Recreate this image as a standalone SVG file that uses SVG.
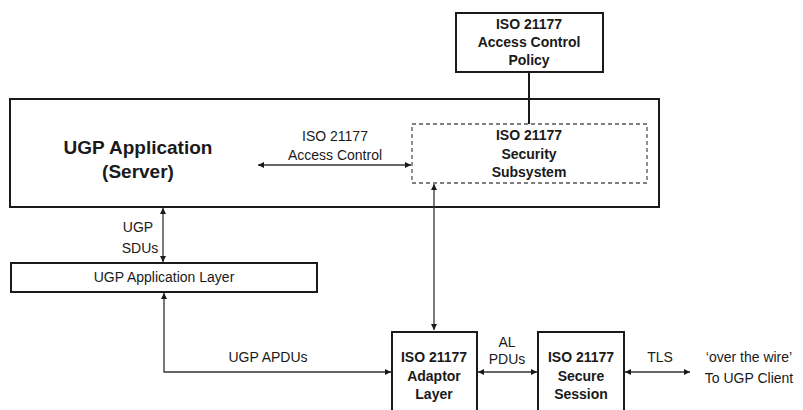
<svg xmlns="http://www.w3.org/2000/svg" width="803" height="410" viewBox="0 0 803 410">
<style>
text{font-family:"Liberation Sans",Arial,sans-serif;font-size:14px;fill:#1a1a1a;text-anchor:middle}
.b{font-weight:bold}
.big{font-weight:bold;font-size:19px}
.box{fill:#fff;stroke:#1a1a1a;stroke-width:2}
.dash{fill:none;stroke:#555;stroke-width:1.3;stroke-dasharray:4,3}
.c{fill:none;stroke:#333;stroke-width:1.3}
.ln{fill:none;stroke:#1a1a1a;stroke-width:2}
</style>
<defs>
<marker id="ah" viewBox="0 0 10 10" refX="10" refY="5" markerWidth="6" markerHeight="6" markerUnits="userSpaceOnUse" orient="auto-start-reverse">
<path d="M0,0 L10,5 L0,10 z" fill="#1a1a1a"/>
</marker>
</defs>
<rect width="803" height="410" fill="#fff"/>
<g id="server">
<rect class="box" x="10" y="99" width="649" height="108"/>
<text class="big" x="138" y="154">UGP Application</text>
<text class="big" x="138" y="178">(Server)</text>
</g>
<g id="policy">
<rect class="box" x="456" y="13" width="147" height="59"/>
<text class="b" x="529" y="29">ISO 21177</text>
<text class="b" x="529" y="47">Access Control</text>
<text class="b" x="529" y="65">Policy</text>
</g>
<g id="security">
<rect class="dash" x="412" y="124" width="235" height="59"/>
<text class="b" x="529" y="140">ISO 21177</text>
<text class="b" x="529" y="159">Security</text>
<text class="b" x="529" y="177">Subsystem</text>
</g>
<g id="applayer">
<rect class="box" x="11" y="263" width="306" height="29"/>
<text x="164" y="282">UGP Application Layer</text>
</g>
<g id="adaptor">
<rect class="box" x="392" y="332" width="85" height="90"/>
<text class="b" x="434" y="362">ISO 21177</text>
<text class="b" x="434" y="381">Adaptor</text>
<text class="b" x="434" y="399">Layer</text>
</g>
<g id="secure">
<rect class="box" x="538" y="332" width="86" height="90"/>
<text class="b" x="581" y="362">ISO 21177</text>
<text class="b" x="581" y="381">Secure</text>
<text class="b" x="581" y="399">Session</text>
</g>
<g id="connectors">
<line class="ln" x1="529" y1="72" x2="529" y2="124"/>
<line class="c" x1="258" y1="165" x2="411" y2="165" marker-start="url(#ah)" marker-end="url(#ah)"/>
<line class="c" x1="163" y1="208" x2="163" y2="262" marker-start="url(#ah)" marker-end="url(#ah)"/>
<line class="c" x1="434" y1="184" x2="434" y2="330" marker-start="url(#ah)" marker-end="url(#ah)"/>
<path class="c" d="M164,293 L164,372 L391,372" marker-start="url(#ah)" marker-end="url(#ah)"/>
<line class="c" x1="478" y1="372" x2="537" y2="372" marker-start="url(#ah)" marker-end="url(#ah)"/>
<line class="c" x1="625" y1="372" x2="690" y2="372" marker-start="url(#ah)" marker-end="url(#ah)"/>
<text x="335" y="141">ISO 21177</text>
<text x="335" y="160">Access Control</text>
<text x="138" y="232">UGP</text>
<text x="140" y="253">SDUs</text>
<text x="268" y="362">UGP APDUs</text>
<text x="507" y="347">AL</text>
<text x="507" y="364">PDUs</text>
<text x="660" y="362">TLS</text>
<text x="749" y="362">‘over the wire’</text>
<text x="749" y="383">To UGP Client</text>
</g>
</svg>
